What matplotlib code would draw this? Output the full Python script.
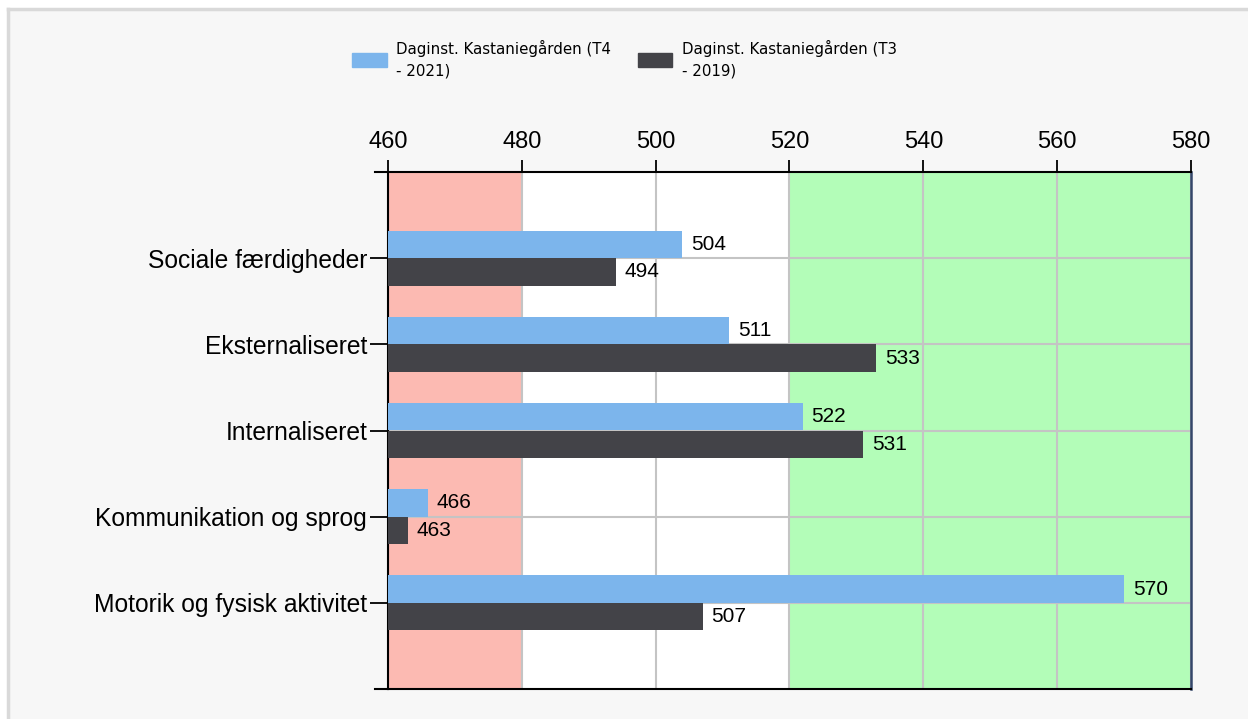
import matplotlib
matplotlib.use("Agg")
import matplotlib.pyplot as plt
from matplotlib.patches import Rectangle, Patch
from matplotlib.lines import Line2D

# data
categories = ["Sociale færdigheder", "Eksternaliseret", "Internaliseret",
              "Kommunikation og sprog", "Motorik og fysisk aktivitet"]
t4_2021 = [504, 511, 522, 466, 570]
t3_2019 = [494, 533, 531, 463, 507]
series_names = ["Daginst. Kastaniegården (T4\n- 2021)",
                "Daginst. Kastaniegården (T3\n- 2019)"]
xticks = [460, 480, 500, 520, 540, 560, 580]

blue = "#7cb5ec"
dark = "#434348"

fig = plt.figure(figsize=(12.48, 7.19), dpi=100)
W, H = 1248, 719

# light gray panel behind the chart (border only on top and left)
fig.patches.append(Rectangle((8 / W, 0), 1 - 8 / W, 1 - 9 / H, transform=fig.transFigure,
                             facecolor="#f7f7f7", edgecolor="none", zorder=-5))
fig.lines.append(Line2D([8 / W, 1], [1 - 9 / H, 1 - 9 / H], transform=fig.transFigure,
                        color="#d9d9d9", lw=2.5))
fig.lines.append(Line2D([8 / W, 8 / W], [0, 1 - 9 / H], transform=fig.transFigure,
                        color="#d9d9d9", lw=2.5))

ax = fig.add_axes([388 / W, 30 / H, 803 / W, 517 / H])
ax.set_xlim(460, 580)
ax.set_ylim(6, 0)

# colored bands
ax.axvspan(460, 480, color="#fcbab2", zorder=0)
ax.axvspan(480, 520, color="white", zorder=0)
ax.axvspan(520, 580, color="#b3fdb8", zorder=0)

pos = list(range(1, len(categories) + 1))
h = 0.32
ax.barh([p - h / 2 for p in pos], [v - 460 for v in t4_2021], left=460, height=h,
        color=blue, zorder=3)
ax.barh([p + h / 2 for p in pos], [v - 460 for v in t3_2019], left=460, height=h,
        color=dark, zorder=3)

for p, v in zip(pos, t4_2021):
    ax.text(v + 1.3, p - h / 2, str(v), va="center", ha="left", fontsize=15,
            family="Liberation Sans", zorder=4)
for p, v in zip(pos, t3_2019):
    ax.text(v + 1.3, p + h / 2, str(v), va="center", ha="left", fontsize=15,
            family="Liberation Sans", zorder=4)

ax.set_xticks(xticks)
ax.set_yticks(pos)
ax.set_yticklabels(categories, family="Liberation Sans", fontsize=17.7)
ax.xaxis.tick_top()
ax.tick_params(axis="x", direction="out", length=9, width=1.3, pad=5, labelsize=17)
for lab in ax.get_xticklabels():
    lab.set_family("Liberation Sans")
ax.tick_params(axis="y", direction="out", length=13, width=1.3, pad=2)

ax.grid(True, color="#c4c4c4", lw=1.5, zorder=1)
for gl in ax.get_xgridlines() + ax.get_ygridlines():
    gl.set_zorder(1)

for s in ["top", "bottom", "left"]:
    ax.spines[s].set_color("black")
    ax.spines[s].set_linewidth(1.5)
ax.spines["right"].set_color("#34476a")
ax.spines["right"].set_linewidth(1.8)
# top and bottom lines stick out a bit to the left
ext = -13 / 803
ax.plot([ext, 0], [1, 1], color="black", lw=1.5, transform=ax.transAxes, clip_on=False)
ax.plot([ext, 0], [0, 0], color="black", lw=1.5, transform=ax.transAxes, clip_on=False)

handles = [Patch(color=blue), Patch(color=dark)]
leg = fig.legend(handles, series_names, loc="upper left", bbox_to_anchor=(352 / W, 1 - 40 / H),
                 ncol=2, frameon=False, handlelength=2.3, handleheight=1.05,
                 columnspacing=1.75, handletextpad=0.65, borderpad=0, borderaxespad=0,
                 prop={"family": "DejaVu Sans", "size": 10.8})
for t in leg.get_texts():
    t.set_linespacing(1.5)

fig.savefig("out.png", dpi=100)
